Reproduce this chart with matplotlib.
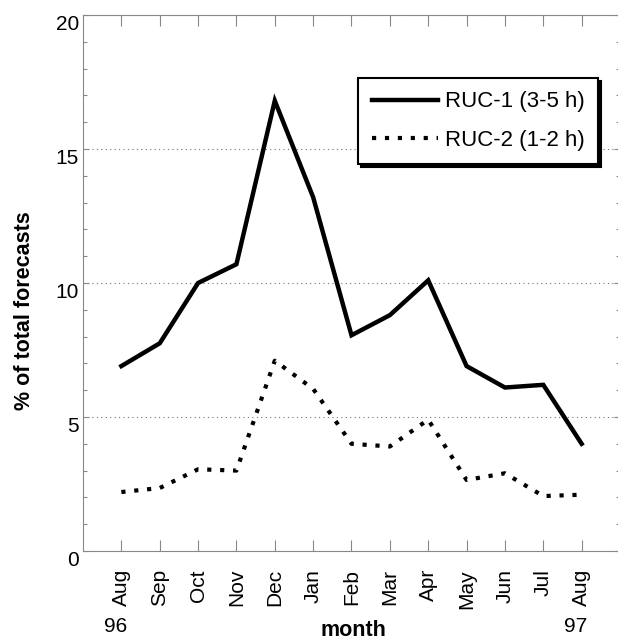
import matplotlib
matplotlib.use("Agg")
import matplotlib.pyplot as plt
from matplotlib.ticker import MultipleLocator
import matplotlib.transforms as mtransforms

months = ['Aug', 'Sep', 'Oct', 'Nov', 'Dec', 'Jan', 'Feb', 'Mar', 'Apr', 'May', 'Jun', 'Jul', 'Aug']
years = {0: '96', 12: '97'}
ruc1 = [6.9, 7.75, 10.0, 10.7, 16.8, 13.2, 8.05, 8.8, 10.1, 6.9, 6.1, 6.2, 4.0]
ruc2 = [2.2, 2.35, 3.05, 3.0, 7.1, 6.05, 4.0, 3.9, 4.9, 2.65, 2.9, 2.05, 2.1]
labels = ['RUC-1 (3-5 h)', 'RUC-2 (1-2 h)']

plt.rcParams['font.family'] = ['Liberation Sans', 'DejaVu Sans']

fig = plt.figure(figsize=(6.18, 6.4), dpi=100)
ax = fig.add_axes([83/618, 1-551/640, (620-83)/618, (551-15)/640])

x = list(range(len(months)))
ax.plot(x, ruc1, color='black', lw=3.2, solid_joinstyle='miter', label=labels[0], zorder=3)
ax.plot(x, ruc2, color='black', lw=3.0, linestyle=(0, (1, 2.1)), dash_capstyle='butt',
        label=labels[1], zorder=3)

ax.set_xlim(-1, 13)
ax.set_ylim(0, 20)
ax.set_xticks(x)
ax.set_xticklabels(months, rotation=90, fontsize=15, va='top', ha='center')
ax.set_yticks([0, 5, 10, 15, 20])
ax.set_yticklabels(['0', '5', '10', '15', '20'], fontsize=15, va='top')
ax.yaxis.set_minor_locator(MultipleLocator(1))

ax.tick_params(axis='x', which='major', direction='in', length=8, width=0.8,
               color='#888888', top=True, bottom=True, pad=13)
ax.tick_params(axis='y', which='major', direction='in', length=4, width=0.8,
               color='#888888', left=True, right=True, pad=3)
ax.tick_params(axis='y', which='minor', direction='in', length=3, width=0.8,
               color='#888888', left=True, right=True)

for s in ax.spines.values():
    s.set_linestyle((0, (1, 1)))
    s.set_color('#888888')
    s.set_linewidth(0.8)

ax.yaxis.grid(True, which='major', linestyle=(0, (1, 3)), color='#777777', lw=0.8)

ax.set_ylabel('% of total forecasts', fontsize=15.5, fontweight='bold')
ax.yaxis.set_label_coords((35-83)/537, (551-311)/536)

trans = mtransforms.blended_transform_factory(ax.transData, fig.transFigure)
for i, yr in years.items():
    ax.text(i - 0.15, 1-627/640, yr, transform=trans, fontsize=15, ha='center', va='center')

fig.text(353/618, 1-631/640, 'month', fontsize=15.5, fontweight='bold', ha='center', va='center')

leg = ax.legend(loc='upper right', bbox_to_anchor=(598/618, 1-78/640),
                bbox_transform=fig.transFigure, fontsize=16, handlelength=3.0,
                handletextpad=0.3, labelspacing=0.8, borderpad=0.6, borderaxespad=0,
                fancybox=False, shadow={'color': 'black', 'alpha': 1.0}, framealpha=1.0)
leg.get_frame().set_edgecolor('black')
leg.get_frame().set_linewidth(1.5)

fig.savefig('out.png', dpi=100)
